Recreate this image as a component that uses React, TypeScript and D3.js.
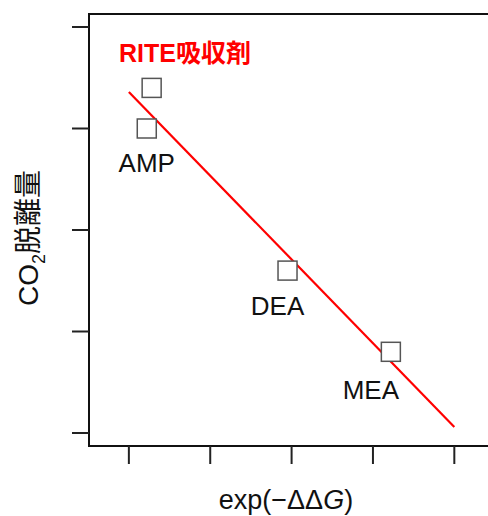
import React from "react";
import { scaleLinear } from "d3";

// data (arbitrary units, axes carry no numbers)
const names = ["", "AMP", "DEA", "MEA"];
const xValues = [0.28, 0.22, 1.95, 3.22];
const yValues = [3.4, 3.0, 1.6, 0.8];
const xTicks = [0, 1, 2, 3, 4];
const yTicks = [0, 1, 2, 3, 4];
const fitX = [0, 4];
const fitY = [3.36, 0.06];
const title = "RITE吸収剤";

const labelShift = [
  [0, 0],
  [0, 44],
  [-10, 44],
  [-20, 47],
];

const W = 488;
const H = 516;
const font = "'Liberation Sans', Arial, 'Noto Sans CJK JP', sans-serif";

export default function App() {
  const x = scaleLinear().domain([-0.49, 4.5]).range([89, 495]);
  const y = scaleLinear().domain([-0.128, 4.128]).range([446, 14]);
  const [left, right] = x.range();
  const [bottom, top] = y.range();
  const box = 19;

  return (
    <svg
      width={W}
      height={H}
      style={{ position: "absolute", left: 0, top: 0, background: "#fff" }}
      fontFamily={font}
    >
      {/* frame */}
      <rect
        x={left}
        y={top}
        width={right - left}
        height={bottom - top}
        fill="none"
        stroke="#111"
        strokeWidth={2}
      />
      {yTicks.map((t) => (
        <line
          key={"y" + t}
          x1={left - 17}
          x2={left}
          y1={y(t)}
          y2={y(t)}
          stroke="#222"
          strokeWidth={2}
        />
      ))}
      {xTicks.map((t) => (
        <line
          key={"x" + t}
          x1={x(t)}
          x2={x(t)}
          y1={bottom}
          y2={bottom + 18}
          stroke="#222"
          strokeWidth={2}
        />
      ))}

      {/* fitted line */}
      <line
        x1={x(fitX[0])}
        y1={y(fitY[0])}
        x2={x(fitX[1])}
        y2={y(fitY[1])}
        stroke="#ff0000"
        strokeWidth={2.2}
      />

      {/* points + names */}
      {xValues.map((v, i) => (
        <g key={i}>
          <rect
            x={x(v) - box / 2}
            y={y(yValues[i]) - box / 2}
            width={box}
            height={box}
            fill="#fff"
            stroke="#555"
            strokeWidth={1.5}
          />
          <text
            x={x(v) + labelShift[i][0]}
            y={y(yValues[i]) + labelShift[i][1]}
            textAnchor="middle"
            fontSize={26}
            fill="#111"
          >
            {names[i]}
          </text>
        </g>
      ))}

      <text x={119} y={62} fill="#ff0000" fontSize={25} fontWeight="bold">
        {title}
      </text>

      {/* axis titles */}
      <text x={286} y={509} textAnchor="middle" fontSize={27} fill="#111">
        exp(−ΔΔ<tspan fontStyle="italic">G</tspan>)
      </text>
      <text
        transform="translate(38,238) rotate(-90)"
        textAnchor="middle"
        fontSize={28}
        fill="#111"
      >
        CO
        <tspan fontSize={18} dy={7}>
          2
        </tspan>
        <tspan dy={-7}>脱離量</tspan>
      </text>
    </svg>
  );
}
